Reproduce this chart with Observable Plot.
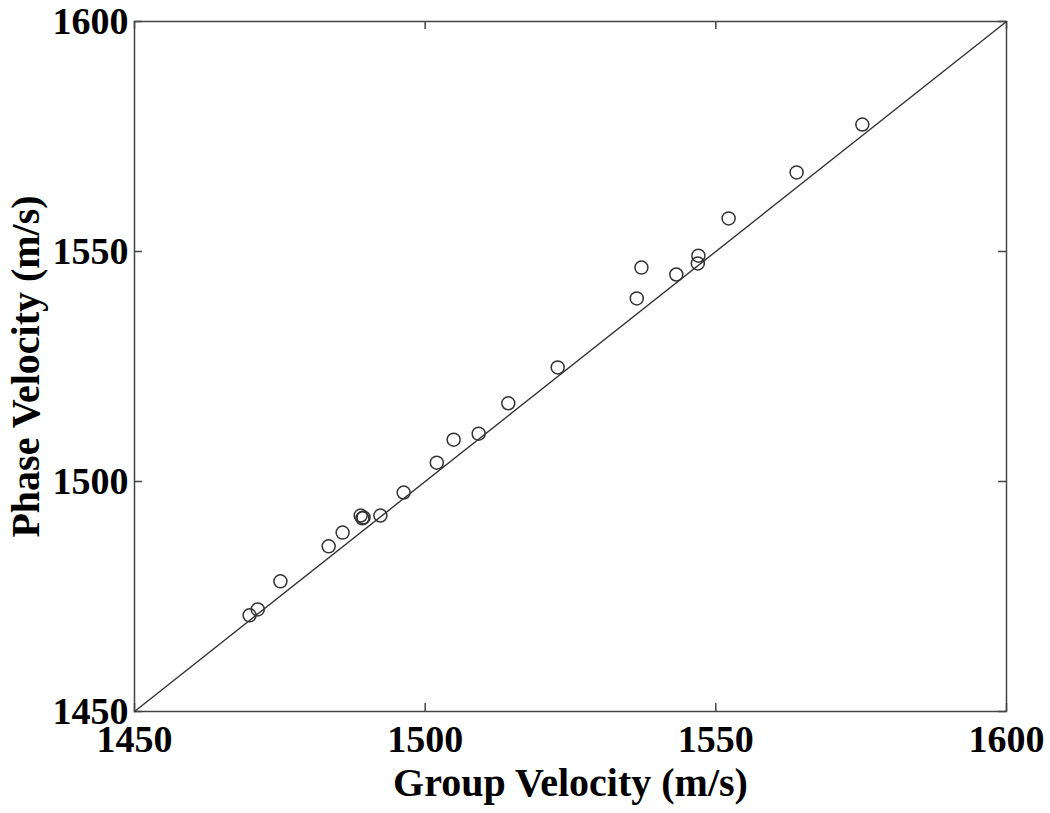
<!DOCTYPE html>
<html>
<head>
<meta charset="utf-8">
<script src="https://cdn.jsdelivr.net/npm/d3@7"></script>
<script src="https://cdn.jsdelivr.net/npm/@observablehq/plot@0.6"></script>
<style>
  html, body { margin: 0; padding: 0; background: #fff; }
</style>
</head>
<body>
<div id="chart"></div>
<script>
const groupVelocity = [1469.8, 1471.2, 1475.1, 1483.4, 1485.8, 1488.9, 1489.4, 1489.2, 1492.3, 1496.3, 1502.0, 1504.9, 1509.2, 1514.3, 1522.8, 1536.4, 1537.2, 1543.2, 1546.9, 1547.0, 1552.2, 1563.9, 1575.2];
const phaseVelocity = [1470.9, 1472.2, 1478.3, 1485.9, 1488.9, 1492.6, 1492.2, 1492.0, 1492.6, 1497.6, 1504.1, 1509.1, 1510.4, 1517.0, 1524.8, 1539.8, 1546.5, 1545.0, 1547.4, 1549.1, 1557.2, 1567.2, 1577.6];
const tickValues = [1450, 1500, 1550, 1600];
const identityLine = [1450, 1600];

const points = groupVelocity.map((g, i) => ({g, p: phaseVelocity[i]}));
const font = "'Liberation Serif', 'Times New Roman', serif";

const chart = Plot.plot({
  width: 1050,
  height: 813,
  marginLeft: 134,
  marginRight: 44,
  marginTop: 21,
  marginBottom: 102,
  style: {fontFamily: font, background: "#fff", color: "#000"},
  x: {domain: [1450, 1600]},
  y: {domain: [1450, 1600]},
  marks: [
    Plot.frame({stroke: "#444", strokeWidth: 1.5}),
    Plot.tickX(tickValues, {x: d => d, insetTop: 682, stroke: "#444", strokeWidth: 1.5}),
    Plot.tickX(tickValues, {x: d => d, insetBottom: 682, stroke: "#444", strokeWidth: 1.5}),
    Plot.tickY(tickValues, {y: d => d, insetRight: 864, stroke: "#444", strokeWidth: 1.5}),
    Plot.tickY(tickValues, {y: d => d, insetLeft: 864, stroke: "#444", strokeWidth: 1.5}),
    Plot.axisX(tickValues, {
      anchor: "bottom", tickSize: 0, tickPadding: 14,
      fontSize: 38, fontWeight: "bold", fill: "#000",
      tickFormat: d => String(d),
      label: "Group Velocity (m/s)", labelAnchor: "center", labelArrow: "none", labelOffset: 84
    }),
    Plot.axisY(tickValues, {
      anchor: "left", tickSize: 0, tickPadding: 6,
      fontSize: 38, fontWeight: "bold", fill: "#000",
      tickFormat: d => String(d),
      label: "Phase Velocity (m/s)", labelAnchor: "center", labelArrow: "none", labelOffset: 124
    }),
    Plot.line(identityLine, {x: d => d, y: d => d, stroke: "#333", strokeWidth: 1.4}),
    Plot.dot(points, {x: "g", y: "p", r: 6.5, stroke: "#333", strokeWidth: 1.5, fill: "none"})
  ]
});
chart.querySelectorAll("g[aria-label='x-axis label'] text, g[aria-label='y-axis label'] text").forEach(t => t.setAttribute("font-size", 40));
document.getElementById("chart").appendChild(chart);
</script>
</body>
</html>
